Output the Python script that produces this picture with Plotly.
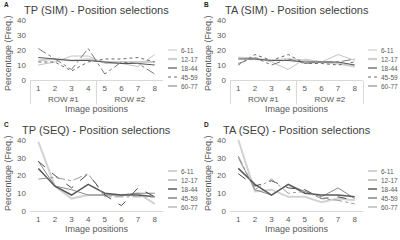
import plotly.graph_objects as go

# ---------------- data ----------------
positions = [1, 2, 3, 4, 5, 6, 7, 8]
position_labels = ["1", "2", "3", "4", "5", "6", "7", "8"]
row_labels = ["ROW #1", "ROW #1", "ROW #1", "ROW #1", "ROW #2", "ROW #2", "ROW #2", "ROW #2"]
age_groups = ["6-11", "12-17", "18-44", "45-59", "60-77"]
y_ticks = [0, 10, 20, 30, 40]

# values per age group (same order as age_groups), percentage per image position
tp_sim = [
    [10, 12, 16, 16, 11, 11, 9, 17],
    [13, 14, 13, 14, 12, 12, 12, 12],
    [15, 14, 13, 13, 12, 11, 11, 10],
    [12, 12, 6, 12, 14, 14, 15, 12],
    [21, 14, 7, 21, 4, 12, 11, 4],
]
ta_sim = [
    [15, 15, 12, 7, 14, 12, 17, 13],
    [15, 14, 13, 14, 13, 12, 11, 9],
    [14, 14, 13, 13, 12, 12, 12, 10],
    [10, 17, 13, 17, 11, 11, 10, 12],
    [11, 15, 10, 14, 11, 12, 12, 14],
]
tp_seq = [
    [39, 14, 7, 9, 9, 9, 10, 4],
    [28, 14, 12, 9, 9, 9, 10, 10],
    [24, 14, 9, 15, 10, 9, 9, 8],
    [28, 20, 13, 21, 9, 3, 13, 8],
    [18, 19, 17, 21, 8, 8, 8, 8],
]
ta_seq = [
    [40, 11, 12, 8, 8, 5, 7, 6],
    [30, 12, 9, 15, 11, 8, 13, 7],
    [24, 15, 9, 15, 10, 9, 9, 8],
    [21, 14, 17, 13, 12, 7, 8, 6],
    [31, 12, 18, 10, 11, 7, 6, 4],
]

# ---------------- styles ----------------
W, H = 400, 240
TXT = "#595959"
sim_styles = [
    dict(color="#c4c4c4", width=1, dash="solid"),
    dict(color="#cfcfcf", width=2.2, dash="solid"),
    dict(color="#555555", width=1.2, dash="solid"),
    dict(color="#6a6a6a", width=1, dash="dot"),
    dict(color="#7a7a7a", width=1, dash="dashdot"),
]
seq_styles = [
    dict(color="#d2d2d2", width=2, dash="solid"),
    dict(color="#8a8a8a", width=1, dash="solid"),
    dict(color="#5a5a5a", width=1.5, dash="solid"),
    dict(color="#4a4a4a", width=1, dash="dash"),
    dict(color="#9a9a9a", width=1, dash="dashdot"),
]

panels = [
    dict(data=tp_sim, title="TP (SIM) - Position selections", letter="A", ox=0, oy=0, multi=True, styles=sim_styles),
    dict(data=ta_sim, title="TA (SIM) - Position selections", letter="B", ox=200, oy=0, multi=True, styles=sim_styles),
    dict(data=tp_seq, title="TP (SEQ) - Position selections", letter="C", ox=0, oy=120, multi=False, styles=seq_styles),
    dict(data=ta_seq, title="TA (SEQ) - Position selections", letter="D", ox=200, oy=120, multi=False, styles=seq_styles),
]

fig = go.Figure()
annotations = []
shapes = []


def px(xp):
    return xp / W


def py(yp):
    return 1 - yp / H


for i, p in enumerate(panels):
    n = "" if i == 0 else str(i + 1)
    ox, oy = p["ox"], p["oy"]
    x0, x1 = 30 + ox, 163 + ox
    if p["multi"]:
        y_zero, y_top = 80 + oy, 18.5 + oy
    else:
        y_zero, y_top = 91 + oy, 18.2 + oy
    for g, vals, st in zip(age_groups, p["data"], p["styles"]):
        if p["multi"]:
            xs = [row_labels, position_labels]
        else:
            xs = positions
        fig.add_trace(go.Scatter(
            x=xs, y=vals, mode="lines", name=g, showlegend=False, hoverinfo="skip",
            line=dict(color=st["color"], width=st["width"], dash=st["dash"]),
            xaxis="x" + n, yaxis="y" + n,
        ))
    xa = dict(domain=[px(x0), px(x1)], anchor="y" + n, showgrid=False, zeroline=False,
              showline=True, linecolor="#d9d9d9", linewidth=1, ticks="", fixedrange=True,
              tickfont=dict(size=8, color=TXT, family="Liberation Sans"), automargin=False)
    if p["multi"]:
        xa.update(type="multicategory", range=[-0.5, 7.5], showdividers=True,
                  dividercolor="#d9d9d9", dividerwidth=1)
    else:
        xa.update(range=[0.5, 8.5], tickvals=positions, ticktext=position_labels)
    ya = dict(domain=[py(y_zero), py(y_top)], anchor="x" + n, range=[0, 41],
              showgrid=False, zeroline=False, showline=False, ticks="", fixedrange=True,
              tickvals=y_ticks, ticklabelstandoff=3,
              tickfont=dict(size=8, color=TXT, family="Liberation Sans"), automargin=False)
    fig.update_layout({"xaxis" + n: xa, "yaxis" + n: ya})

    cx = (x0 + x1) / 2
    # title
    annotations.append(dict(text=p["title"], x=px(cx), y=py(oy + 10), xref="paper", yref="paper",
                            showarrow=False, xanchor="center", yanchor="middle",
                            font=dict(size=11, color="#404040", family="Liberation Sans")))
    # panel letter
    annotations.append(dict(text="<b>" + p["letter"] + "</b>", x=px(ox + 2), y=py(oy + 4),
                            xref="paper", yref="paper", showarrow=False,
                            xanchor="left", yanchor="middle",
                            font=dict(size=6.5, color="#222222", family="Liberation Sans")))
    # y title
    annotations.append(dict(text="Percentage (Freq.)", x=px(ox + 8), y=py(oy + 53), xref="paper",
                            yref="paper", showarrow=False, textangle=-90,
                            xanchor="center", yanchor="middle",
                            font=dict(size=9, color=TXT, family="Liberation Sans")))
    # x title
    annotations.append(dict(text="Image positions", x=px(cx), y=py(oy + 109), xref="paper",
                            yref="paper", showarrow=False, xanchor="center", yanchor="middle",
                            font=dict(size=9, color=TXT, family="Liberation Sans")))
    # manual compact legend
    ly0 = oy + (50 if p["multi"] else 51)
    for k, (g, st) in enumerate(zip(age_groups, p["styles"])):
        yy = ly0 + k * 9
        shapes.append(dict(type="line", xref="paper", yref="paper",
                           x0=px(ox + 168), x1=px(ox + 177), y0=py(yy), y1=py(yy),
                           line=dict(color=st["color"], width=st["width"], dash=st["dash"])))
        annotations.append(dict(text=g, x=px(ox + 179), y=py(yy), xref="paper", yref="paper",
                                showarrow=False, xanchor="left", yanchor="middle",
                                font=dict(size=6.5, color=TXT, family="Liberation Sans")))

fig.update_layout(
    width=W, height=H, margin=dict(l=0, r=0, t=0, b=0),
    paper_bgcolor="white", plot_bgcolor="white", hovermode=False, dragmode=False,
    annotations=annotations, shapes=shapes, showlegend=False,
)

fig.write_html("out.html", config={"displayModeBar": False, "staticPlot": True},
               post_script="document.body.style.margin='0';document.body.style.overflow='hidden';")
